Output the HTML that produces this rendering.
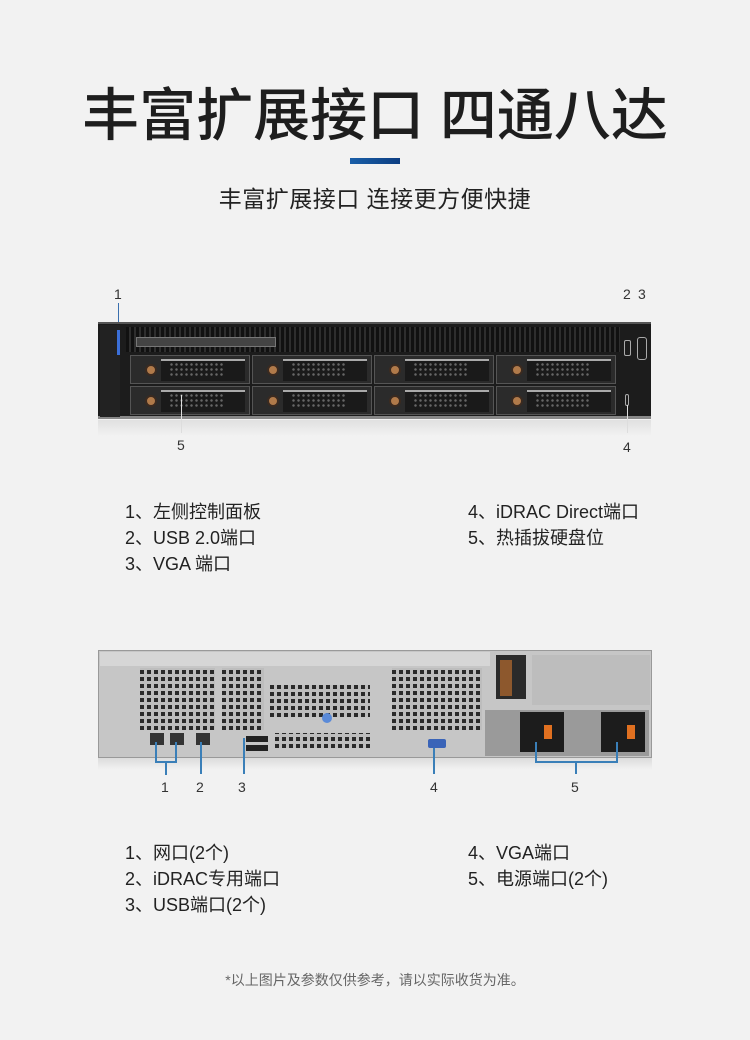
<!DOCTYPE html>
<html><head><meta charset="utf-8"><style>
*{margin:0;padding:0;box-sizing:border-box}
body{width:750px;height:1040px;background:#f2f2f2;position:relative;overflow:hidden;font-family:"Liberation Sans","Noto Sans CJK SC",sans-serif;color:#222}
.a{position:absolute}
.t{position:absolute;white-space:nowrap}
.holes{background-color:#bdbdbd;background-image:repeating-linear-gradient(90deg,transparent 0 4px,#bdbdbd 4px 7px),repeating-linear-gradient(0deg,#2a2a2a 0 4px,#bdbdbd 4px 7px)}
.bay{position:absolute;width:120px;height:29px;background:#2b2b2b;border:1px solid #555}
.bay .h{position:absolute;left:30px;top:3px;width:84px;height:22px;background:#1a1a1a;border-top:2px solid #aaa}
.bay .g{position:absolute;left:38px;top:6px;width:55px;height:16px;background-image:radial-gradient(#666 1px,transparent 1.5px);background-size:5px 5px}
.bay .c{position:absolute;left:14px;top:8px;width:12px;height:12px;border-radius:50%;background:#b07a4a;border:2px solid #3a2a20}
.ln{position:absolute;background:#3a7fb8}
.num{position:absolute;font-size:14px;color:#333}
.leg{position:absolute;font-size:18px;line-height:26px;color:#222;white-space:nowrap}
</style></head><body>
<div class="t" style="left:0;width:750px;text-align:center;top:70px;font-size:57px;font-weight:500;color:#1e1e1e">丰富扩展接口 四通八达</div>
<div class="a" style="left:350px;top:158px;width:50px;height:6px;background:linear-gradient(90deg,#1a5fa8,#0d3e82)"></div>
<div class="t" style="left:0;width:750px;text-align:center;top:180px;font-size:23px;letter-spacing:0.5px;color:#222">丰富扩展接口 连接更方便快捷</div>

<!-- front server -->
<div class="num" style="left:114px;top:286px">1</div>
<div class="num" style="left:623px;top:286px">2</div>
<div class="num" style="left:638px;top:286px">3</div>
<div class="ln" style="left:118px;top:303px;width:1px;height:50px;background:#3a6fae"></div>
<div class="a" style="left:98px;top:322px;width:553px;height:97px;background:#1c1c1c;border-top:2px solid #555;border-bottom:3px solid #888"></div>
<div class="a" style="left:100px;top:325px;width:20px;height:92px;background:#222"></div>
<div class="a" style="left:117px;top:330px;width:3px;height:25px;background:#3b6fd8"></div>
<div class="a" style="left:126px;top:327px;width:494px;height:25px;background:#2e2e2e;background-image:repeating-linear-gradient(90deg,#111 0 3px,transparent 3px 5px)"></div>
<div class="a" style="left:136px;top:337px;width:140px;height:10px;background:#444;border:1px solid #777"></div>
<div class="bay" style="left:130px;top:355px"></div>
<div class="bay" style="left:252px;top:355px"></div>
<div class="bay" style="left:374px;top:355px"></div>
<div class="bay" style="left:496px;top:355px"></div>
<div class="bay" style="left:130px;top:386px"></div>
<div class="bay" style="left:252px;top:386px"></div>
<div class="bay" style="left:374px;top:386px"></div>
<div class="bay" style="left:496px;top:386px"></div>
<script>document.querySelectorAll('.bay').forEach(b=>b.innerHTML='<div class="c"></div><div class="h"></div><div class="g"></div>')</script>
<div class="a" style="left:624px;top:340px;width:7px;height:16px;border:1px solid #aaa;border-radius:2px"></div>
<div class="a" style="left:637px;top:337px;width:10px;height:23px;border:1px solid #aaa;border-radius:3px"></div>
<div class="a" style="left:625px;top:394px;width:4px;height:12px;border:1px solid #aaa;border-radius:2px"></div>
<div class="a" style="left:98px;top:420px;width:553px;height:16px;background:linear-gradient(#e0e0e0,#f2f2f2)"></div>
<div class="ln" style="left:181px;top:395px;width:1px;height:38px;background:#ddd"></div>
<div class="ln" style="left:627px;top:405px;width:1px;height:28px;background:#ddd"></div>
<div class="num" style="left:177px;top:437px">5</div>
<div class="num" style="left:623px;top:439px">4</div>

<div class="leg" style="left:125px;top:499px">1、左侧控制面板<br>2、USB 2.0端口<br>3、VGA 端口</div>
<div class="leg" style="left:468px;top:499px">4、iDRAC Direct端口<br>5、热插拔硬盘位</div>

<!-- rear server -->
<div class="a" style="left:98px;top:650px;width:554px;height:108px;background:#c6c6c6;border:1px solid #999"></div>
<div class="a" style="left:100px;top:652px;width:390px;height:14px;background:#d6d6d6"></div>
<div class="a holes" style="left:140px;top:668px;width:75px;height:62px"></div>
<div class="a holes" style="left:222px;top:668px;width:42px;height:62px"></div>
<div class="a holes" style="left:270px;top:685px;width:100px;height:32px"></div>
<div class="a holes" style="left:275px;top:733px;width:95px;height:15px"></div>
<div class="a holes" style="left:392px;top:668px;width:90px;height:62px"></div>
<div class="a" style="left:322px;top:713px;width:10px;height:10px;border-radius:50%;background:#5a8ad8"></div>
<div class="a" style="left:150px;top:733px;width:14px;height:12px;background:#333"></div>
<div class="a" style="left:170px;top:733px;width:14px;height:12px;background:#333"></div>
<div class="a" style="left:196px;top:733px;width:14px;height:12px;background:#333"></div>
<div class="a" style="left:246px;top:736px;width:22px;height:6px;background:#222"></div>
<div class="a" style="left:246px;top:745px;width:22px;height:6px;background:#222"></div>
<div class="a" style="left:428px;top:739px;width:18px;height:9px;background:#3a64b8;border-radius:2px"></div>
<div class="a" style="left:496px;top:655px;width:30px;height:44px;background:#2a2a2a"></div>
<div class="a" style="left:500px;top:660px;width:12px;height:36px;background:#d07830;opacity:.6"></div>
<div class="a" style="left:532px;top:655px;width:118px;height:50px;background:#bdbdbd"></div>
<div class="a" style="left:485px;top:710px;width:82px;height:46px;background:#9a9a9a"></div>
<div class="a" style="left:565px;top:710px;width:84px;height:46px;background:#9a9a9a"></div>
<div class="a" style="left:520px;top:712px;width:44px;height:40px;background:#1c1c1c"></div>
<div class="a" style="left:601px;top:712px;width:44px;height:40px;background:#1c1c1c"></div>
<div class="a" style="left:544px;top:725px;width:8px;height:14px;background:#e07020"></div>
<div class="a" style="left:627px;top:725px;width:8px;height:14px;background:#e07020"></div>
<div class="a" style="left:98px;top:758px;width:554px;height:12px;background:linear-gradient(#dcdcdc,#f2f2f2)"></div>
<!-- connector lines -->
<div class="ln" style="left:155px;top:742px;width:2px;height:20px"></div>
<div class="ln" style="left:175px;top:742px;width:2px;height:20px"></div>
<div class="ln" style="left:155px;top:761px;width:22px;height:2px"></div>
<div class="ln" style="left:165px;top:761px;width:2px;height:14px"></div>
<div class="ln" style="left:200px;top:742px;width:2px;height:32px"></div>
<div class="ln" style="left:243px;top:738px;width:2px;height:36px"></div>
<div class="ln" style="left:433px;top:748px;width:2px;height:26px"></div>
<div class="ln" style="left:535px;top:742px;width:2px;height:20px"></div>
<div class="ln" style="left:616px;top:742px;width:2px;height:20px"></div>
<div class="ln" style="left:535px;top:761px;width:83px;height:2px"></div>
<div class="ln" style="left:575px;top:761px;width:2px;height:13px"></div>
<div class="num" style="left:161px;top:779px">1</div>
<div class="num" style="left:196px;top:779px">2</div>
<div class="num" style="left:238px;top:779px">3</div>
<div class="num" style="left:430px;top:779px">4</div>
<div class="num" style="left:571px;top:779px">5</div>

<div class="leg" style="left:125px;top:840px">1、网口(2个)<br>2、iDRAC专用端口<br>3、USB端口(2个)</div>
<div class="leg" style="left:468px;top:840px">4、VGA端口<br>5、电源端口(2个)</div>

<div class="t" style="left:0;width:750px;text-align:center;top:970px;font-size:14px;color:#666">*以上图片及参数仅供参考，请以实际收货为准。</div>
</body></html>
